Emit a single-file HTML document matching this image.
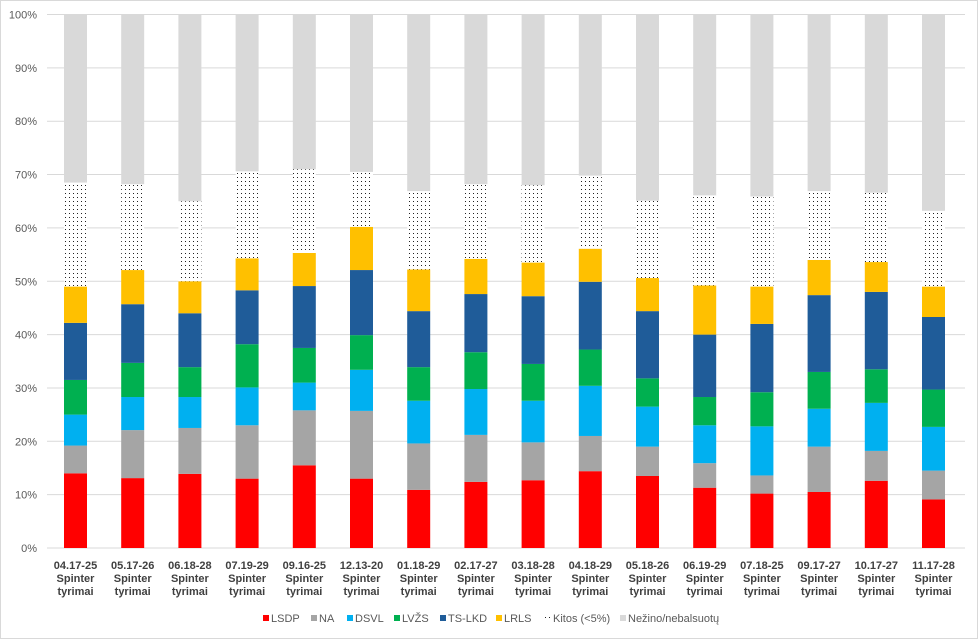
<!DOCTYPE html>
<html><head><meta charset="utf-8"><style>
body{margin:0;background:#fff;font-family:"Liberation Sans",sans-serif}
svg{display:block}
</style></head><body>
<svg id="chart" width="978" height="639">
<defs><pattern id="dots" width="4" height="4" patternUnits="userSpaceOnUse"><rect width="4" height="4" fill="#fff"/><rect x="1" y="1" width="1" height="1" fill="#222"/></pattern></defs>
<rect x="0.5" y="0.5" width="977" height="638" fill="#fff" stroke="#d9d9d9"/>
<g id="grid"></g><g id="bars"></g><g id="xlabels"></g><g id="legend"></g>
</svg>
<script>
const categories=["04.17-25","05.17-26","06.18-28","07.19-29","09.16-25","12.13-20","01.18-29","02.17-27","03.18-28","04.18-29","05.18-26","06.19-29","07.18-25","09.17-27","10.17-27","11.17-28"];
const LSDP=[14,13.1,13.9,13,15.5,13,10.9,12.4,12.7,14.4,13.5,11.3,10.2,10.5,12.6,9.1];
const NA=[5.2,9,8.6,10,10.3,12.7,8.7,8.8,7.1,6.6,5.5,4.6,3.4,8.5,5.6,5.4];
const DSVL=[5.8,6.2,5.8,7.1,5.2,7.7,8,8.6,7.8,9.4,7.5,7.1,9.2,7.1,9,8.2];
const LVZS=[6.5,6.4,5.6,8.1,6.5,6.5,6.3,6.9,6.9,6.8,5.3,5.3,6.4,6.9,6.3,7];
const TSLKD=[10.7,11,10.1,10.1,11.6,12.2,10.5,10.9,12.7,12.7,12.6,11.7,12.8,14.4,14.5,13.6];
const LRLS=[6.8,6.4,6,6,6.2,8.1,7.8,6.6,6.3,6.2,6.2,9.2,7,6.6,5.6,5.7];
const Kitos=[19.5,16.1,15,16.3,15.7,10.3,14.7,14,14.5,13.7,14.5,16.9,16.9,12.9,13,14.2];
const yTicks=[0,10,20,30,40,50,60,70,80,90,100];
const seriesNames=["LSDP","NA","DSVL","LVŽS","TS-LKD","LRLS","Kitos (<5%)","Nežino/nebalsuotų"];
const seriesData=[LSDP,NA,DSVL,LVZS,TSLKD,LRLS,Kitos];
const colors=["#ff0000","#a5a5a5","#00b0f0","#00b050","#1f5c99","#ffc000","url(#dots)","#d9d9d9"];
const NS="http://www.w3.org/2000/svg";
const y0=548,y1=14.5,x0=47,x1=965,bw=23,firstC=75.5,step=57.2;
const yS=v=>y0-(y0-y1)*v/100;
const xC=i=>firstC+i*step;
function mk(t,a,p){const e=document.createElementNS(NS,t);for(const k in a)e.setAttribute(k,a[k]);p.appendChild(e);return e;}
const grid=document.getElementById('grid');
yTicks.forEach(t=>{
 const l=mk('line',{x1:x0,x2:x1,y1:yS(t),y2:yS(t),stroke:'#d9d9d9','stroke-width':1},grid);
 
 
 const tx=mk('text',{x:37,y:yS(t)+4,'text-anchor':'end','font-size':11,fill:'#595959'},grid);
 tx.textContent=t+'%';
 
 
});
const bars=document.getElementById('bars');
categories.forEach((c,i)=>{
 let cum=0;
 const vals=seriesData.map(s=>s[i]);
 vals.push(100-vals.reduce((a,b)=>a+b,0));
 vals.forEach((v,k)=>{
  const r=mk('rect',{x:xC(i)-bw/2,y:yS(cum+v),width:bw,height:yS(cum)-yS(cum+v),fill:colors[k]},bars);
  
  
  cum+=v;
 });
 const xl=document.getElementById('xlabels');
 [c,'Spinter','tyrimai'].forEach((s,j)=>{
  const t=mk('text',{x:xC(i),y:569+j*13,'text-anchor':'middle','font-size':11,'font-weight':'bold',fill:'#404040'},xl);
  t.textContent=s;
  
  
 });
});
const lg=document.getElementById('legend');
const lx=[263,311,347,394,440,496,545,620];
seriesNames.forEach((n,k)=>{
 const g=mk('g',{},lg);
 
 
 mk('rect',{x:lx[k],y:615,width:6,height:6,fill:k==6?'url(#dots)':colors[k]},g);
 const t=mk('text',{x:lx[k]+8,y:622,'font-size':11,fill:'#595959'},g);
 t.textContent=n;
});
</script>
</body></html>
